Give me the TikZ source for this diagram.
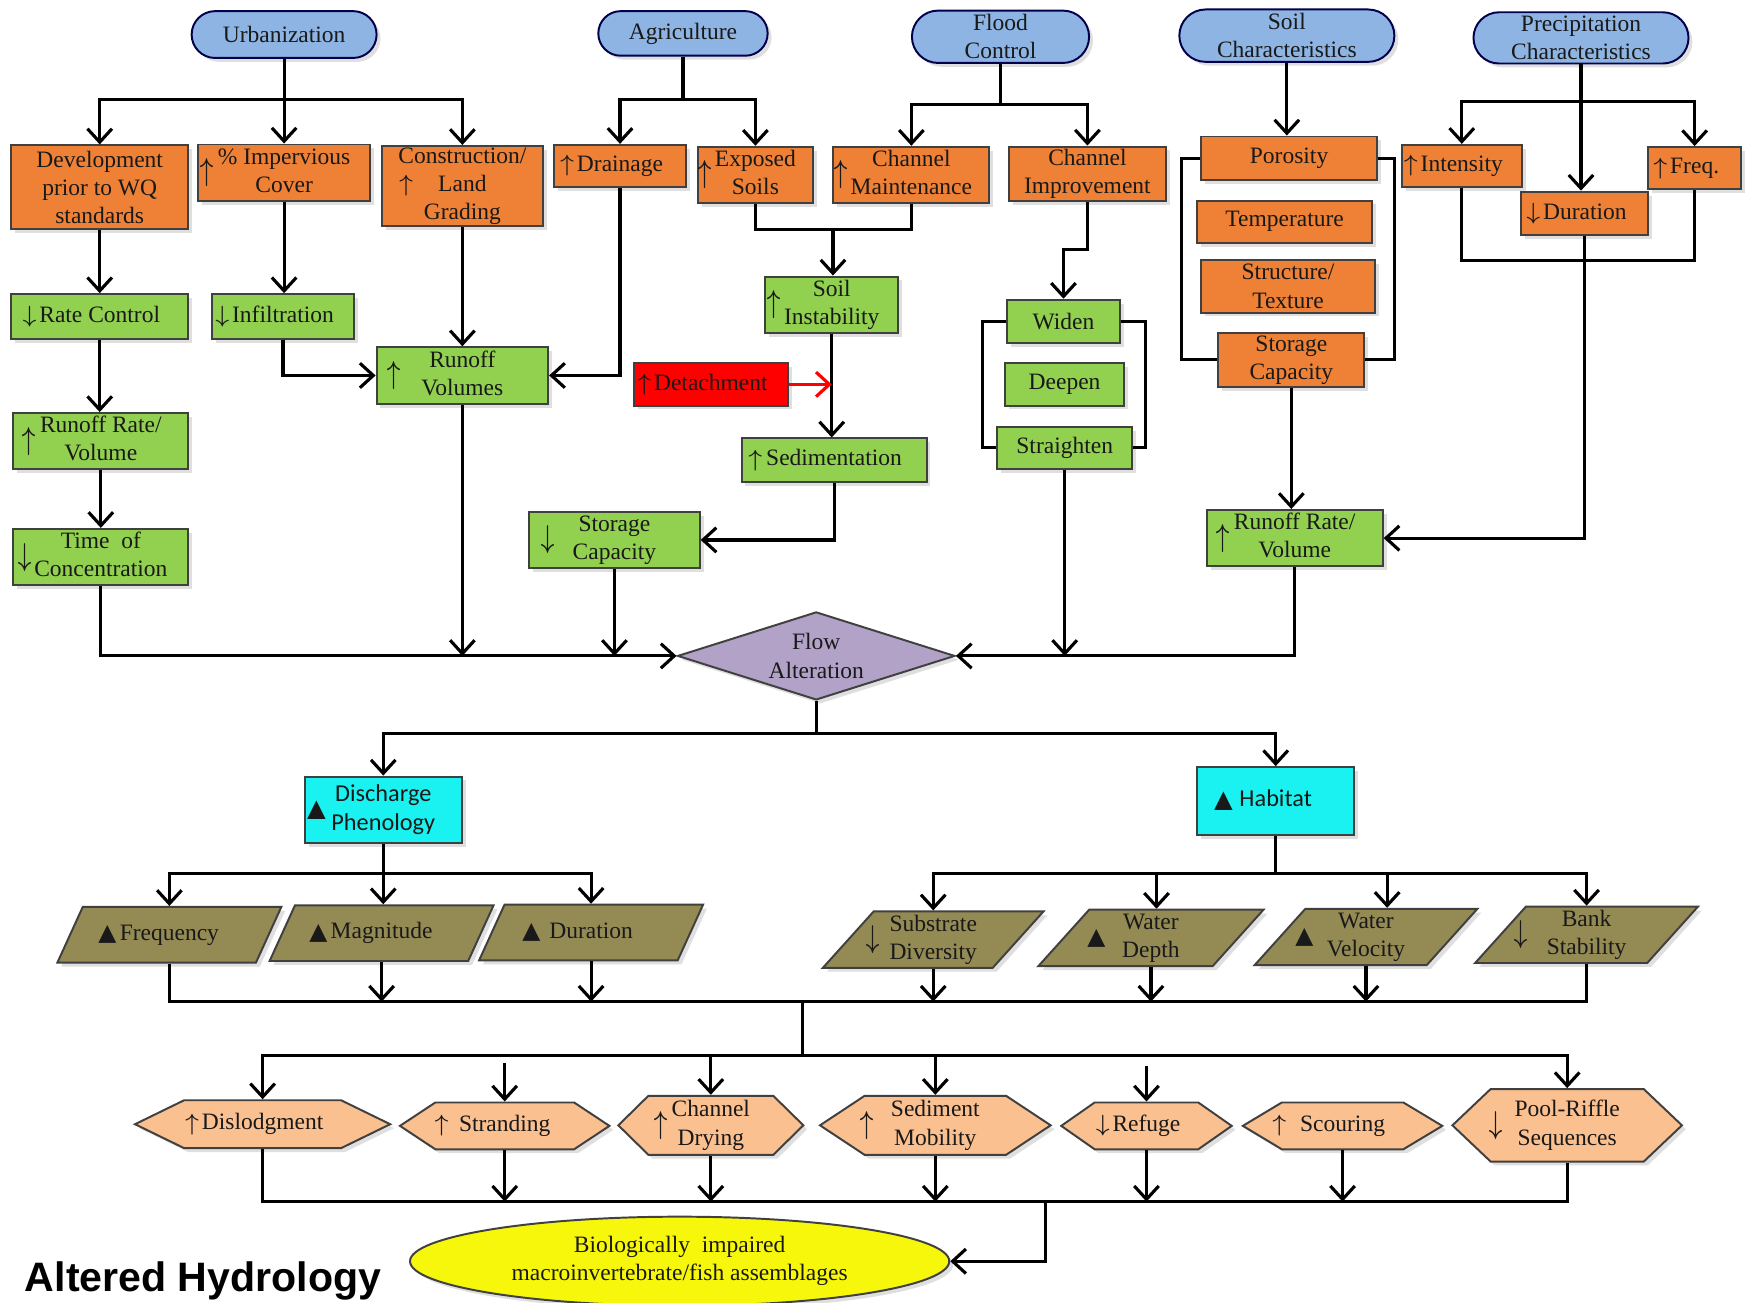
\documentclass[tikz,border=0pt]{standalone}
\usepackage{fontspec}
\setmainfont{Liberation Serif}
\newfontfamily\calfont{Carlito}
\newfontfamily\symfont{DejaVu Sans}
\newfontfamily\headfont{Liberation Sans}
\usepackage{graphicx}
\usepackage{xcolor}
\usepackage{tikz}
\usetikzlibrary{shapes,arrows,arrows.meta,positioning,shapes.geometric,shapes.misc,shapes.symbols,shadows}

\definecolor{srcblue}{HTML}{8DB4E2}
\definecolor{orng}{HTML}{EE8135}
\definecolor{grn}{HTML}{92D050}
\definecolor{cyn}{HTML}{1AF2F2}
\definecolor{paraol}{HTML}{948A54}
\definecolor{peach}{HTML}{FAC090}
\definecolor{lilac}{HTML}{B3A2C7}
\definecolor{ylw}{HTML}{F7F70C}

\newcommand{\uparr}{$\uparrow$}
\newcommand{\dnarr}{$\downarrow$}
\newcommand{\tuparr}{\scalebox{1}[1.35]{$\uparrow$}}
\newcommand{\tdnarr}{\scalebox{1}[1.35]{$\downarrow$}}
\newcommand{\bltri}{{\symfont ▲}}
\newcommand{\mlab}[3][0.4mm]{\llap{$\vcenter{\hbox{#2}}$\hspace{#1}}$\vcenter{\hbox{\begin{tabular}{@{}c@{}}#3\end{tabular}}}$}

\begin{document}
\begin{tikzpicture}[
    x=1mm, y=-1mm, line width=0.8pt,
    >={Straight Barb[length=1.2mm,width=2.2mm]},
    every node/.style={font=\fontsize{6}{7.2}\selectfont, inner sep=0pt, text=black!90},
    sz/.style 2 args={minimum width=#1mm, minimum height=#2mm},
    cell/.style={draw=black!75, line width=0.5pt, align=center,
      drop shadow={shadow xshift=0.35mm, shadow yshift=-0.35mm, opacity=0.25}},
    src/.style={cell, rounded rectangle, fill=srcblue, draw=black!70!blue},
    obox/.style={cell, rectangle, fill=orng},
    gbox/.style={cell, rectangle, fill=grn},
    rbox/.style={cell, rectangle, fill=red},
    cbox/.style={cell, rectangle, fill=cyn, font=\calfont\fontsize{6.2}{7.4}\selectfont},
    para/.style={cell, trapezium, trapezium left angle=48, trapezium right angle=132,
      trapezium stretches body, fill=paraol},
    hexa/.style={cell, signal, signal to=east and west, signal pointer angle=#1, fill=peach},
    flowd/.style={cell, diamond, aspect=3, fill=lilac},
    ell/.style={cell, ellipse, fill=ylw}
  ]
    \useasboundingbox (0,0) rectangle (156.8,116.9);
    \fill[white] (0,0) rectangle (156.8,116.9);

    \node[src, sz={16.6}{4.2}] (urb) at (25.5,3.1) {Urbanization};
    \node[src, sz={15.2}{4.0}] (agr) at (61.3,3.0) {Agriculture};
    \node[src, sz={15.9}{4.7}] (flood) at (89.8,3.3) {Flood\\Control};
    \node[src, sz={19.3}{4.7}] (soil) at (115.5,3.2) {Soil\\Characteristics};
    \node[src, sz={19.3}{4.6}] (precip) at (141.9,3.4) {Precipitation\\Characteristics};

    \node[obox, sz={15.9}{7.5}] (dev) at (8.95,16.8) {Development\\prior to WQ\\standards};
    \node[obox, sz={15.4}{4.8}] (imperv) at (25.5,15.5) {\mlab[0.3mm]{\tuparr}{\% Impervious\\Cover}};
    \node[obox, sz={14.4}{7.2}] (constr) at (41.5,16.7) {Construction/\\\llap{\uparr\hspace{2.2mm}}Land\\Grading};
    \node[obox, sz={11.8}{3.8}] (drain) at (55.65,14.9) {\mlab[0.2mm]{\uparr}{Drainage}};
    \node[obox, sz={10.3}{4.8}] (exposed) at (67.8,15.7) {\mlab[0.2mm]{\tuparr}{Exposed\\Soils}};
    \node[obox, sz={14.0}{4.8}] (chmaint) at (81.8,15.7) {\mlab[0.2mm]{\tuparr}{Channel\\Maintenance}};
    \node[obox, sz={14.1}{4.9}] (chimp) at (97.6,15.6) {Channel\\Improvement};
    \node[obox, sz={15.8}{3.9}] (poros) at (115.7,14.2) {Porosity};
    \node[obox, sz={15.7}{3.8}] (temp) at (115.3,19.9) {Temperature};
    \node[obox, sz={15.6}{4.7}] (struct) at (115.6,25.7) {Structure/\\Texture};
    \node[obox, sz={13.1}{4.8}] (storo) at (115.9,32.3) {Storage\\Capacity};
    \node[obox, sz={10.8}{3.8}] (intens) at (131.2,14.9) {\mlab[0.2mm]{\uparr}{Intensity}};
    \node[obox, sz={8.4}{3.8}] (freq) at (152.1,15.1) {\mlab[0.2mm]{\uparr}{Freq.}};
    \node[obox, sz={11.4}{3.9}] (durp) at (142.25,19.15) {\mlab[0.2mm]{\dnarr}{Duration}};

    \node[gbox, sz={15.9}{4.0}] (rate) at (8.95,28.4) {\mlab[0.2mm]{\dnarr}{Rate Control}};
    \node[gbox, sz={12.7}{4.0}] (infil) at (25.4,28.4) {\mlab[0.2mm]{\dnarr}{Infiltration}};
    \node[gbox, sz={15.4}{4.8}] (runvol) at (41.5,33.7) {\mlab[1.8mm]{\tuparr}{Runoff\\Volumes}};
    \node[gbox, sz={15.7}{4.8}] (runl) at (9.05,39.6) {\mlab[0.3mm]{\tuparr}{Runoff Rate/\\Volume}};
    \node[gbox, sz={15.7}{4.8}] (toc) at (9.05,50.0) {\mlab[0.2mm]{\tdnarr}{Time\ \ of\\Concentration}};
    \node[gbox, sz={11.9}{4.9}] (soilin) at (74.65,27.35) {\mlab[0.2mm]{\tuparr}{Soil\\Instability}};
    \node[rbox, sz={13.8}{3.8}] (detach) at (63.8,34.5) {\mlab[0.2mm]{\uparr}{Detachment}};
    \node[gbox, sz={16.6}{3.9}] (sedim) at (74.86,41.3) {\mlab[0.3mm]{\uparr}{Sedimentation}};
    \node[gbox, sz={15.3}{4.8}] (storg) at (55.15,48.46) {\mlab[1.5mm]{\tdnarr}{Storage\\Capacity}};
    \node[gbox, sz={10.1}{3.9}] (widen) at (95.45,28.85) {Widen};
    \node[gbox, sz={10.7}{3.8}] (deepen) at (95.55,34.5) {Deepen};
    \node[gbox, sz={12.1}{3.8}] (straight) at (95.56,40.2) {Straighten};
    \node[gbox, sz={15.8}{4.9}] (runr) at (116.2,48.3) {\mlab[0.3mm]{\tuparr}{Runoff Rate/\\Volume}};

    \node[flowd, sz={24.9}{7.9}] (flow) at (73.26,58.87) {Flow\\Alteration};

    \node[cbox, sz={14.1}{6.0}] (disch) at (34.4,72.7) {\mlab[0.5mm]{\bltri}{Discharge\\Phenology}};
    \node[cbox, sz={14.1}{6.1}] (habitat) at (114.5,71.9) {\mlab[0.6mm]{\bltri}{Habitat}};

    \node[para, sz={20.1}{5.0}] (freqp) at (15.2,83.9) {\mlab[0.3mm]{\bltri}{Frequency}};
    \node[para, sz={20.1}{5.0}] (magp) at (34.25,83.75) {\mlab[0.3mm]{\bltri}{Magnitude}};
    \node[para, sz={20.1}{5.0}] (durp2) at (53.05,83.7) {\mlab[0.8mm]{\bltri}{Duration}};
    \node[para, sz={19.8}{4.9}] (subst) at (83.76,84.33) {\mlab[0.8mm]{\tdnarr}{Substrate\\Diversity}};
    \node[para, sz={20.2}{4.9}] (depth) at (103.3,84.18) {\mlab[1.5mm]{\bltri}{Water\\Depth}};
    \node[para, sz={20.0}{5.0}] (veloc) at (122.6,84.1) {\mlab[1.2mm]{\bltri}{Water\\Velocity}};
    \node[para, sz={20.0}{5.0}] (bank) at (142.4,83.9) {\mlab[1.6mm]{\tdnarr}{Bank\\Stability}};

    \node[hexa=52, sz={22.9}{4.3}] (disl) at (23.57,100.9) {\mlab[0.2mm]{\uparr}{Dislodgment}};
    \node[hexa=67, sz={18.8}{4.2}] (strand) at (45.3,101.05) {\mlab[0.9mm]{\uparr}{Stranding}};
    \node[hexa=89, sz={16.6}{5.3}] (chdry) at (63.8,101.0) {\mlab[0.3mm]{\tuparr}{Channel\\Drying}};
    \node[hexa=67, sz={20.7}{5.3}] (sedmob) at (83.95,101.0) {\mlab[1.5mm]{\tuparr}{Sediment\\Mobility}};
    \node[hexa=70, sz={15.3}{4.2}] (refuge) at (102.9,101.05) {\mlab[0.2mm]{\dnarr}{Refuge}};
    \node[hexa=62, sz={17.9}{4.2}] (scour) at (120.5,101.05) {\mlab[1.2mm]{\uparr}{Scouring}};
    \node[hexa=87, sz={20.6}{6.5}] (pool) at (140.66,101.0) {\mlab[1mm]{\tdnarr}{Pool-Riffle\\Sequences}};

    \node[ell, sz={48.4}{8.0}] (bio) at (61.0,113.2) {Biologically\ \ impaired\\macroinvertebrate/fish assemblages};
    \node[anchor=base west, font=\headfont\bfseries\fontsize{10.5}{12}\selectfont, text=black] (title) at (2.1,115.9) {Altered Hydrology};

    \coordinate (ubus) at (25.5,8.9);
    \draw (urb.south) -- (ubus);
    \draw[->] (ubus) -| (dev.north);
    \draw[->] (ubus) -- (imperv.north);
    \draw[->] (ubus) -| (constr.north);
    \draw[->] (dev.south) -- (rate.north);
    \draw[->] (rate.south) -- (rate.south |- runl.north);
    \draw[->] (runl.south) -- (toc.north);
    \draw[->] (imperv.south) -- (imperv.south |- infil.north);
    \draw[->] (constr.south) -- (runvol.north);
    \draw[->] (infil.south) |- (runvol.west);
    \draw[->] (drain.south) |- (runvol.east);
    \draw[->] (toc.south) |- (flow.west);
    \draw[->] (runvol.south) -- (runvol.south |- flow.west);
    \draw[->] (storg.south) -- (storg.south |- flow.west);

    \coordinate (abus) at (61.3,8.9);
    \draw (agr.south) -- (abus);
    \draw[->] (abus) -| (drain.north);
    \draw[->] (abus) -| (exposed.north);

    \coordinate (fbus) at (89.8,9.36);
    \draw (flood.south) -- (fbus);
    \draw[->] (fbus) -| (chmaint.north);
    \draw[->] (fbus) -| (chimp.north);
    \coordinate (sbus) at (74.76,20.6);
    \draw (exposed.south) |- (sbus) -| (chmaint.south);
    \draw[->] (sbus) -- (sbus |- soilin.north);
    \draw[->] (soilin.south) -- (soilin.south |- sedim.north);
    \draw[->, red] (detach.east) -- (detach.east -| soilin.south);
    \draw[->] (sedim.south) |- (storg.east);
    \draw[->] (chimp.south) -- ++(0,4.25) -| (widen.north);
    \draw (widen.west) -- ++(-2.1,0) |- (straight.west);
    \draw (widen.east) -- ++(2.2,0) |- (straight.east);
    \draw[->] (straight.south) -- (straight.south |- flow.east);

    \draw[->] (soil.south) -- (soil.south |- poros.north);
    \draw (poros.west) -- ++(-1.7,0) |- (storo.west);
    \draw (poros.east) -- ++(1.5,0) |- (storo.east);
    \draw[->] (storo.south) -- (storo.south |- runr.north);
    \draw[->] (runr.south) |- (flow.east);

    \coordinate (pbus) at (141.9,9.13);
    \draw[->] (precip.south) -- (precip.south |- durp.north);
    \draw[->] (pbus) -| (intens.north);
    \draw[->] (pbus) -| (freq.north);
    \draw (intens.south) -- ++(0,6.5) -| (freq.south);
    \draw[->] (durp.south) |- (runr.east);

    \coordinate (fdown) at (73.26,65.8);
    \draw (flow.south) -- (fdown);
    \draw[->] (fdown) -| (disch.north);
    \draw[->] (fdown) -| (habitat.north);

    \coordinate (dbus) at (34.4,78.4);
    \draw (disch.south) -- (dbus);
    \draw[->] (dbus) -| (freqp.north);
    \draw[->] (dbus) -- (dbus |- magp.north);
    \draw[->] (dbus) -| (durp2.north);
    \coordinate (hbus) at (114.5,78.4);
    \draw (habitat.south) -- (hbus);
    \draw[->] (hbus) -| (subst.north);
    \draw[->] (hbus) -| ([xshift=0.5mm]depth.north);
    \draw[->] (hbus) -| ([xshift=1.9mm]veloc.north);
    \draw[->] (hbus) -| (bank.north);

    \coordinate (mbus) at (72.0,89.9);
    \draw (freqp.south) |- (mbus);
    \draw (bank.south) |- (mbus);
    \draw[->] (magp.south) -- (magp.south |- mbus);
    \draw[->] (durp2.south) -- (durp2.south |- mbus);
    \draw[->] (subst.south) -- (subst.south |- mbus);
    \draw[->] (depth.south) -- (depth.south |- mbus);
    \draw[->] (veloc.south) -- (veloc.south |- mbus);

    \coordinate (lbus) at (72.0,94.7);
    \draw (mbus) -- (lbus);
    \draw[->] (lbus) -| (disl.north);
    \draw[->] (lbus) -| (chdry.north);
    \draw[->] (lbus) -| (sedmob.north);
    \draw[->] (lbus) -| (pool.north);
    \coordinate (strtop) at (45.3,95.4);
    \coordinate (reftop) at (102.9,95.7);
    \draw[->] (strtop) -- (strand.north);
    \draw[->] (reftop) -- (refuge.north);

    \coordinate (hbot) at (93.8,107.85);
    \draw (disl.south) |- (hbot);
    \draw (pool.south) |- (hbot);
    \draw[->] (strand.south) -- (strand.south |- hbot);
    \draw[->] (chdry.south) -- (chdry.south |- hbot);
    \draw[->] (sedmob.south) -- (sedmob.south |- hbot);
    \draw[->] (refuge.south) -- (refuge.south |- hbot);
    \draw[->] (scour.south) -- (scour.south |- hbot);
    \draw[->] (hbot) |- (bio.east);
  \end{tikzpicture}
\end{document}
